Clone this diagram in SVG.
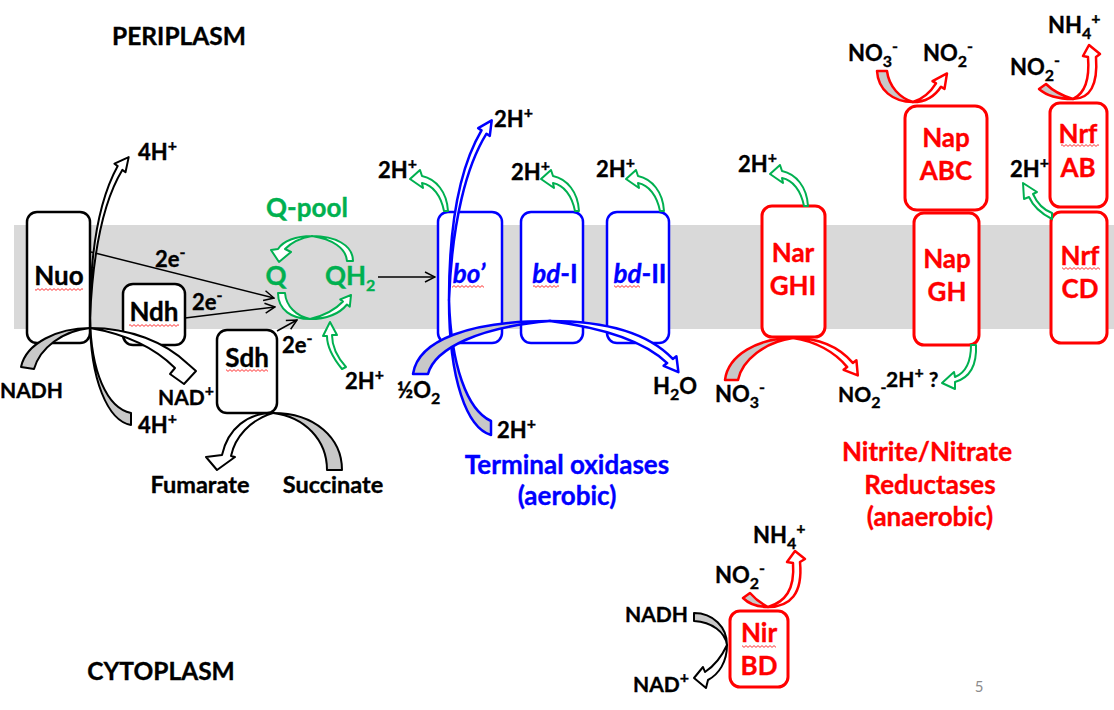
<svg xmlns="http://www.w3.org/2000/svg" width="1114" height="710" viewBox="0 0 1114 710">
<defs>
<style>
text{font-family:Lato,"Liberation Sans","DejaVu Sans",sans-serif;font-weight:bold;font-size:22px;fill:#000;stroke:#000;stroke-width:0.35}
.bl{font-size:26px}
.big{font-size:26px}
.cmp{font-size:24.5px}
.mid{font-size:23.5px}
.sm{font-size:21px}
.g{fill:#00b050;stroke:#00b050}.b{fill:#0000ff;stroke:#0000ff}.r{fill:#ff0000;stroke:#ff0000}
.sb{font-size:16px}
.it{font-style:italic}
.box{fill:#fff;stroke-width:2.5}
.bk{stroke:#000}.bbx{stroke:#0000ff}.rbx{stroke:#ff0000;stroke-width:3}
.ak{stroke:#000;stroke-width:2;stroke-linejoin:round}
.ag{stroke:#00b050;stroke-width:2;stroke-linejoin:round;fill:#fff}
.ab{stroke:#0000ff;stroke-width:2.5;stroke-linejoin:round}
.ar{stroke:#ff0000;stroke-width:2.5;stroke-linejoin:round}
.tail{fill:#c8c8c8}.head{fill:#fff}
.el{stroke:#000;stroke-width:1.5;fill:none;marker-end:url(#oa)}
.wv{fill:url(#wavy)}
</style>
<marker id="oa" viewBox="0 0 12 12" refX="11" refY="6" markerWidth="12" markerHeight="12" markerUnits="userSpaceOnUse" orient="auto"><path d="M1,1 L11,6 L1,11" fill="none" stroke="#000" stroke-width="1.5"/></marker>
<pattern id="wavy" width="4" height="3" patternUnits="userSpaceOnUse"><path d="M0,2.4 L2,0.6 L4,2.4" fill="none" stroke="#ff0000" stroke-width="0.8"/></pattern>
</defs>
<rect width="1114" height="710" fill="#fff"/>
<rect id="membrane" x="14" y="225" width="1100" height="104" fill="#d9d9d9"/>

<g id="compartments">
<text class="cmp" x="179" y="45" text-anchor="middle">PERIPLASM</text>
<text class="cmp" x="161" y="680" text-anchor="middle">CYTOPLASM</text>
<text x="979" y="692" text-anchor="middle" style="font-weight:normal;font-size:15px;fill:#8c8c8c;stroke:none">5</text>
</g>

<g id="nuo"><rect class="box bk" x="27" y="212" width="63" height="131" rx="10"/><text class="bl" x="59" y="285" text-anchor="middle">Nuo</text><rect class="wv" x="35" y="288" width="48" height="3"/></g>
<g id="ndh"><rect class="box bk" x="123" y="284" width="62" height="61" rx="10"/><text class="bl" x="154" y="321" text-anchor="middle">Ndh</text><rect class="wv" x="129" y="324" width="50" height="3"/></g>
<g id="sdh"><rect class="box bk" x="217" y="330" width="60" height="83" rx="10"/><text class="bl" x="247" y="367" text-anchor="middle">Sdh</text><rect class="wv" x="226" y="369" width="42" height="3"/></g>

<g id="bo"><rect class="box bbx" x="438" y="212" width="64" height="131" rx="10"/><text class="bl b it" x="469" y="283" text-anchor="middle">bo’</text><rect class="wv" x="452" y="285" width="32" height="3"/></g>
<g id="bdI"><rect class="box bbx" x="521" y="212" width="62" height="131" rx="10"/><text class="bl b" x="555" y="283" text-anchor="middle"><tspan class="it">bd</tspan>-I</text><rect class="wv" x="533" y="285" width="26" height="3"/></g>
<g id="bdII"><rect class="box bbx" x="607" y="212" width="62" height="131" rx="10"/><text class="bl b" x="640" y="283" text-anchor="middle"><tspan class="it">bd</tspan>-II</text><rect class="wv" x="614" y="285" width="26" height="3"/></g>

<g id="nar"><rect class="box rbx" x="762" y="206" width="63" height="131" rx="10"/><text class="bl r" x="793" y="262" text-anchor="middle">Nar</text><text class="bl r" x="793" y="295" text-anchor="middle">GHI</text></g>
<g id="napABC"><rect class="box rbx" x="905" y="106" width="82" height="104" rx="12"/><text class="bl r" x="946" y="147" text-anchor="middle">Nap</text><text class="bl r" x="946" y="180" text-anchor="middle">ABC</text></g>
<g id="napGH"><rect class="box rbx" x="914" y="213" width="65" height="132" rx="10"/><text class="bl r" x="947" y="268" text-anchor="middle">Nap</text><text class="bl r" x="947" y="301" text-anchor="middle">GH</text></g>
<g id="nrfAB"><rect class="box rbx" x="1050" y="103" width="57" height="104" rx="10"/><text class="bl r" x="1078" y="143" text-anchor="middle">Nrf</text><rect class="wv" x="1061" y="144" width="38" height="3"/><text class="bl r" x="1078" y="177" text-anchor="middle">AB</text></g>
<g id="nrfCD"><rect class="box rbx" x="1051" y="212" width="56" height="131" rx="10"/><text class="bl r" x="1080" y="265" text-anchor="middle">Nrf</text><rect class="wv" x="1062" y="267" width="38" height="3"/><text class="bl r" x="1080" y="298" text-anchor="middle">CD</text></g>
<g id="nir"><rect class="box rbx" x="730" y="611" width="58" height="76" rx="10"/><text class="bl r" x="759" y="642" text-anchor="middle">Nir</text><rect class="wv" x="742" y="645" width="34" height="3"/><text class="bl r" x="759" y="675" text-anchor="middle">BD</text></g>

<g id="connectors">
<line class="el" x1="91" y1="252" x2="274" y2="298"/>
<line class="el" x1="185" y1="318" x2="275" y2="307"/>
<line class="el" x1="277" y1="331" x2="297" y2="320"/>
<line class="el" x1="378" y1="277" x2="435" y2="277"/>

<path class="ak tail" d="M21,367 C26,343 58,328 90,328 C62,331 40,348 34,369 Z"/>
<path class="ak head" d="M90,328 C130,328 165,342 188,364 L196,371 L184,384 L170,374 L175,368 C155,348 125,334 90,328 Z"/>
<path class="ak tail" d="M131,413 L131,425 C108,421 90,380 90,318 C91,372 107,408 131,413 Z"/>
<path class="ak head" d="M90,318 C90,250 99,200 117.7,166.1 L114.5,163.7 L128.7,157.1 L125.5,172.3 L122.3,169.9 C104,200 93,250 90,318 Z"/>
<path class="ak tail" d="M327,470 L342,470 C342,438 315,413 273,413 C305,417 327,440 327,470 Z"/>
<path class="ak head" d="M273,413 C248,413 228,428 222,455 L206,457 L217,470 L235,457 L231,456 C235,437 250,420 273,413 Z"/>
<path class="ak tail" d="M694,613 C713,613 727,627 727,645 C725,632 712,622 694,621 Z"/>
<path class="ak head" d="M727,645 C727,662 719,674 708,680 L706,688 L694,678 L703,667 L705,672 C714,666 722,656 727,645 Z"/>

<path class="ag" d="M353,261 C353,245 335,236 312,236 C296,236 283,241 278,249 L271,250 L279,262 L291,252 L285,249 C291,243 300,238 312,236 C332,239 346,248 347,261 Z"/>
<path class="ag" d="M278,293 C278,310 292,319 310,319 C328,319 340,313 347,304.5 L349.8,306.6 L351,295 L340.2,299.4 L343,301.5 C335,310 323,316 310,319 C296,316 286,306 285,293 Z"/>
<path class="ag" d="M342,369 C333,358 327,348 327,336 L323,336 L330,322 L337,335 L332,335 C332,347 337,357 346,367 Z"/>
<path id="hout" class="ag" d="M448,211 C447,192 436,179 422,176 L420,170 L410,179 L423,188 L422,183 C433,185 441,196 444,211 Z"/>
<use href="#hout" transform="translate(131,0)"/>
<use href="#hout" transform="translate(216,0)"/>
<use href="#hout" transform="translate(360,-5)"/>
<path class="ag" d="M976,345 C977,366 969,378 955,382 L955,389 L942,383 L954,372 L955,377 C965,373 971,364 971,345 Z"/>
<path class="ag" d="M1052,219 C1042,214 1033,206 1029,197 L1024,199 L1023,183 L1037,192 L1033,194 C1037,203 1044,210 1052,213 Z"/>

<path class="ab tail" d="M491,421 L491,435 C467,428 449,380 449,300 C451,365 467,410 491,421 Z"/>
<path class="ab head" d="M449,300 C449,220 461,165 481.5,130.4 L478.2,128.2 L491.7,120.4 L489.8,135.9 L486.5,133.7 C467,165 452,220 449,300 Z"/>
<path class="ab tail" d="M413,374 C418,340 470,321 550,321 C480,327 435,348 428,374 Z"/>
<path class="ab head" d="M550,321 C610,321 650,335 672.8,358.9 L676.4,356.2 L678.4,372.2 L663.6,365.8 L667.2,363.1 C645,342 605,328 550,321 Z"/>

<path class="ar tail" d="M725,380 C728,355 758,338 793,338 C765,342 742,360 738,380 Z"/>
<path class="ar head" d="M793,338 C820,338 840,348 852.8,362.9 L856.4,360.2 L857.8,375.4 L843.6,369.8 L847.2,367.1 C835,352 815,341 793,338 Z"/>
<path class="ar tail" d="M877,71 C878,90 893,102 913,102 C900,98 889,87 887,71 Z"/>
<path class="ar head" d="M913,102 C925,102 935,96 941,86.7 L944.5,88.9 L947,73.4 L932.5,81.1 L936,83.3 C930,93 922,99 913,102 Z"/>
<path class="ar tail" d="M1039,89 C1048,97 1060,99 1073,99 C1063,96 1054,92 1046,84 Z"/>
<path class="ar head" d="M1073,99 C1090,99 1098,85 1096,57 L1100,54 L1089,45 L1083,56 L1088,57 C1090,82 1084,94 1073,99 Z"/>
<path class="ar tail" d="M743,598 C750,605 758,607 768,607 C762,604 756,600 750,593 Z"/>
<path class="ar head" d="M768,607 C790,607 803,594 800,562 L805,559 L795,551 L787,562 L793,563 C795,590 785,602 768,607 Z"/>
</g>

<g id="labels">
<text x="138" y="160">4H<tspan class="sb" dy="-9">+</tspan></text>
<text x="138" y="433">4H<tspan class="sb" dy="-9">+</tspan></text>
<text x="155" y="267">2e<tspan class="sb" dy="-9">-</tspan></text>
<text x="192" y="310">2e<tspan class="sb" dy="-9">-</tspan></text>
<text x="282" y="353">2e<tspan class="sb" dy="-9">-</tspan></text>
<text class="sm" x="0" y="398">NADH</text>
<text class="sm" x="158" y="405">NAD<tspan class="sb" dy="-9">+</tspan></text>
<text class="g big" x="307" y="217" text-anchor="middle">Q-pool</text>
<text class="g bl" x="276" y="285" text-anchor="middle">Q</text>
<text class="g bl" x="325" y="285">QH<tspan class="sb" dy="6">2</tspan></text>
<text x="345" y="389">2H<tspan class="sb" dy="-9">+</tspan></text>
<text class="mid" x="200" y="493" text-anchor="middle">Fumarate</text>
<text class="mid" x="333" y="493" text-anchor="middle">Succinate</text>
<text x="397" y="398">½O<tspan class="sb" dy="6">2</tspan></text>
<text x="497" y="438">2H<tspan class="sb" dy="-9">+</tspan></text>
<text x="653" y="394">H<tspan class="sb" dy="6">2</tspan><tspan dy="-6">O</tspan></text>
<text x="494" y="127">2H<tspan class="sb" dy="-9">+</tspan></text>
<text x="378" y="178">2H<tspan class="sb" dy="-9">+</tspan></text>
<text x="511" y="180">2H<tspan class="sb" dy="-9">+</tspan></text>
<text x="596" y="177">2H<tspan class="sb" dy="-9">+</tspan></text>
<text class="b big" x="567" y="474" text-anchor="middle">Terminal oxidases</text>
<text class="b big" x="567" y="505" text-anchor="middle">(aerobic)</text>
<text x="738" y="172">2H<tspan class="sb" dy="-9">+</tspan></text>
<text x="1010" y="177">2H<tspan class="sb" dy="-9">+</tspan></text>
<text x="848" y="61">NO<tspan class="sb" dy="6">3</tspan><tspan class="sb" dy="-15">-</tspan></text>
<text x="923" y="61">NO<tspan class="sb" dy="6">2</tspan><tspan class="sb" dy="-15">-</tspan></text>
<text x="1048" y="33">NH<tspan class="sb" dy="6">4</tspan><tspan class="sb" dy="-15">+</tspan></text>
<text x="1010" y="75">NO<tspan class="sb" dy="6">2</tspan><tspan class="sb" dy="-15">-</tspan></text>
<text x="715" y="402">NO<tspan class="sb" dy="6">3</tspan><tspan class="sb" dy="-15">-</tspan></text>
<text class="sm" x="838" y="402">NO<tspan class="sb" dy="6">2</tspan><tspan class="sb" dy="-15">-</tspan></text>
<text class="sm" x="886" y="387">2H<tspan class="sb" dy="-9">+</tspan><tspan dy="9"> ?</tspan></text>
<text class="r big" x="927" y="461" text-anchor="middle">Nitrite/Nitrate</text>
<text class="r big" x="930" y="494" text-anchor="middle">Reductases</text>
<text class="r big" x="930" y="526" text-anchor="middle">(anaerobic)</text>
<text x="753" y="543">NH<tspan class="sb" dy="6">4</tspan><tspan class="sb" dy="-15">+</tspan></text>
<text x="715" y="583">NO<tspan class="sb" dy="6">2</tspan><tspan class="sb" dy="-15">-</tspan></text>
<text class="sm" x="625" y="622">NADH</text>
<text class="sm" x="633" y="692">NAD<tspan class="sb" dy="-9">+</tspan></text>
</g>
</svg>
